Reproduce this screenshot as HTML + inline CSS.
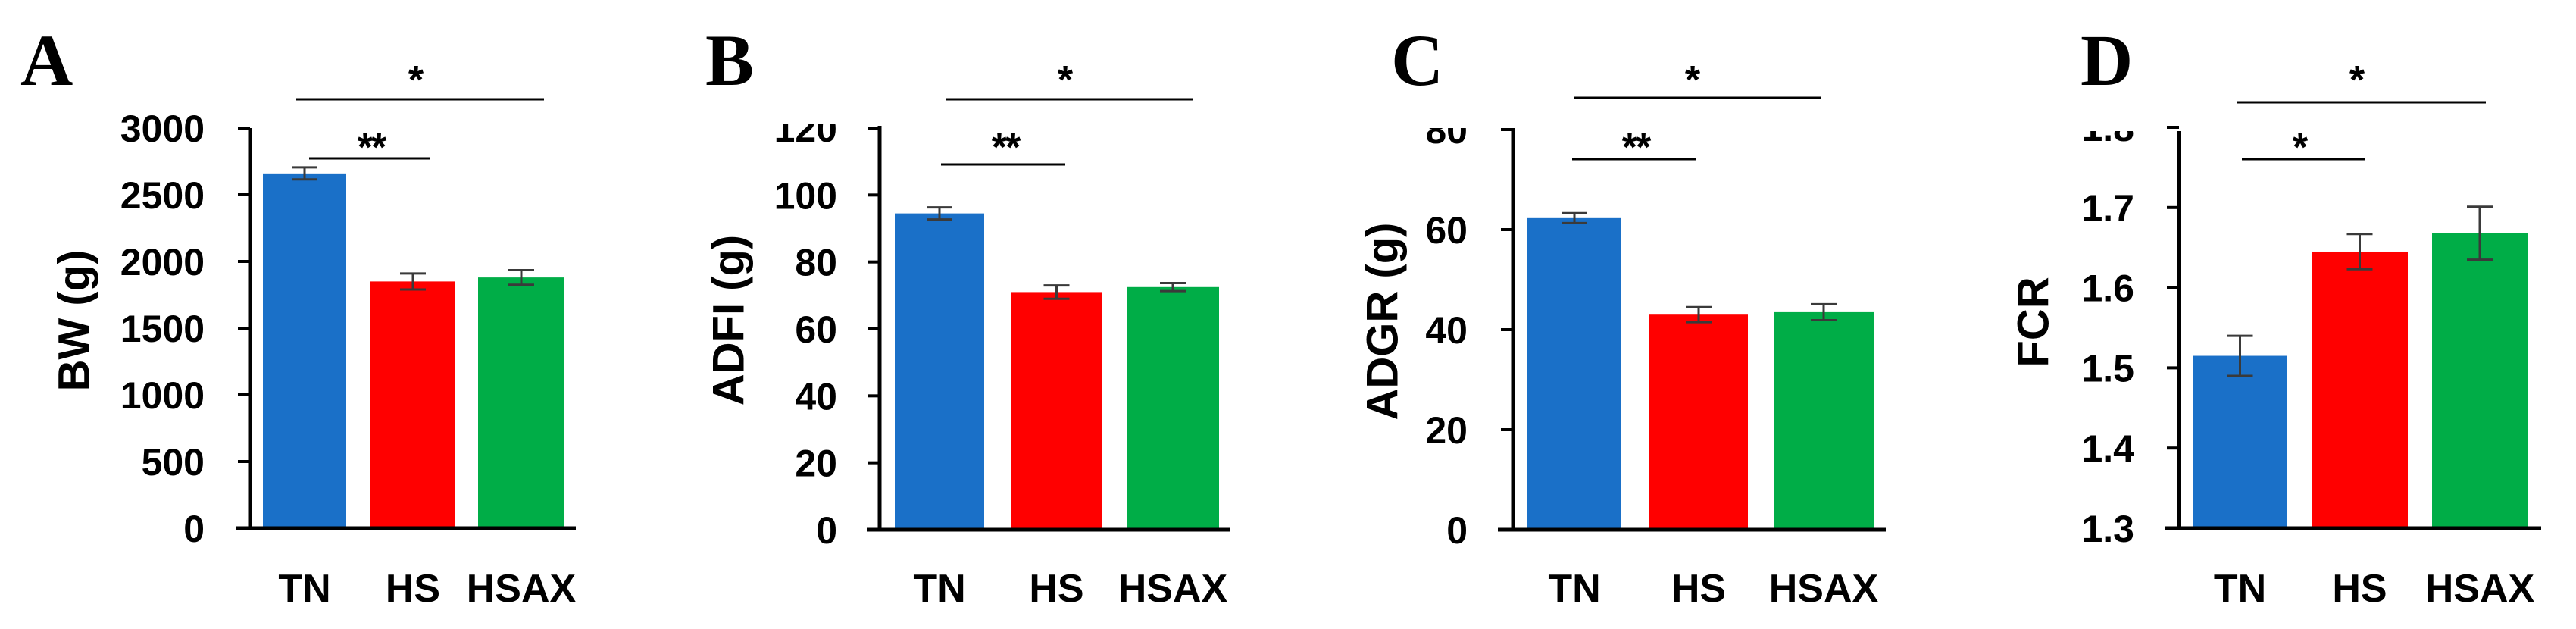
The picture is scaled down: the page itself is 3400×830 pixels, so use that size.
<!DOCTYPE html>
<html><head><meta charset="utf-8"><style>
html,body{margin:0;padding:0;background:#fff;}
svg{display:block;}
text{font-family:"Liberation Sans",sans-serif;font-weight:bold;fill:#000;}
.letter{font-family:"Liberation Serif",serif;font-weight:bold;}
</style></head><body>
<svg id="fig" width="3400" height="830" viewBox="0 0 3400 830" xmlns="http://www.w3.org/2000/svg"></svg>
<script>
const categories = ["TN","HS","HSAX"];
const colors = ["#1a70c8","#ff0000","#00ad47"];
const bwValues = [2660,1850,1880];
const bwErrors = [45,60,55];
const bwTicks = [0,500,1000,1500,2000,2500,3000];
const adfiValues = [94.5,71,72.5];
const adfiErrors = [1.8,2.0,1.2];
const adfiTicks = [0,20,40,60,80,100,120];
const adgrValues = [62.3,43,43.5];
const adgrErrors = [1.0,1.5,1.6];
const adgrTicks = [0,20,40,60,80];
const fcrValues = [1.515,1.645,1.668];
const fcrErrors = [0.025,0.022,0.033];
const fcrTicks = [1.3,1.4,1.5,1.6,1.7,1.8];
const panelLetters = ["A","B","C","D"];
const panelTitles = ["BW (g)","ADFI (g)","ADGR (g)","FCR"];

const NS="http://www.w3.org/2000/svg";
const svg=document.getElementById('fig');
function mk(tag,attrs,parent){const e=document.createElementNS(NS,tag);for(const k in attrs)e.setAttribute(k,attrs[k]);(parent||svg).appendChild(e);return e;}

const layouts=[
 {id:"bw",vals:bwValues,errs:bwErrors,ticks:bwTicks,min:0,max:3000,fmt:v=>String(v),
  axX:330,top:169,bot:697,xl:311,xr:760,bars:[[347,457],[489,601],[631,745]],tickR:270,titleX:98,
  letterX:27,clipTop:150,longL:[391,718,131],longStar:[548,"*"],shortL:[408,568,209],shortStar:[490,"**"]},
 {id:"adfi",vals:adfiValues,errs:adfiErrors,ticks:adfiTicks,min:0,max:120,fmt:v=>String(v),
  axX:1161,top:166,bot:699,xl:1144,xr:1624,bars:[[1181,1299],[1334,1455],[1487,1609]],tickR:1105,titleX:962,
  letterX:931,clipTop:163,longL:[1248,1575,131],longStar:[1405,"*"],shortL:[1242,1406,217],shortStar:[1327,"**"]},
 {id:"adgr",vals:adgrValues,errs:adgrErrors,ticks:adgrTicks,min:0,max:80,fmt:v=>String(v),
  axX:1997,top:169,bot:699,xl:1977,xr:2489,bars:[[2016,2140],[2177,2307],[2341,2473]],tickR:1937,titleX:1825,
  letterX:1836,clipTop:169,longL:[2078,2404,129],longStar:[2233,"*"],shortL:[2075,2238,210],shortStar:[2159,"**"]},
 {id:"fcr",vals:fcrValues,errs:fcrErrors,ticks:fcrTicks,min:1.3,max:1.8,fmt:v=>v.toFixed(1),
  axX:2876,top:173,bot:697,xl:2858,xr:3354,bars:[[2895,3018],[3051,3178],[3210,3336]],tickR:2817,titleX:2684,
  letterX:2746,clipTop:173,longL:[2953,3281,135],longStar:[3110,"*"],shortL:[2959,3122,210],shortStar:[3035,"*"]}
];

const defs=mk('defs',{});
layouts.forEach((L,pi)=>{
  const yTop = L.id==="bw"?169:(L.id==="adfi"?169:(L.id==="adgr"?171:168));
  const y=v=>L.bot-(v-L.min)/(L.max-L.min)*(L.bot-yTop);
  const g=mk('g',{});
  
  
  const cp=mk('clipPath',{id:'clip'+pi},defs);
  mk('rect',{x:L.tickR-200,y:L.clipTop,width:260,height:600},cp);

  const letter=mk('text',{x:L.letterX,y:112,'font-size':96,class:'letter'},g);
  letter.textContent=panelLetters[pi];
  
  

  const cy=(L.top+L.bot)/2-10;
  const title=mk('text',{x:L.titleX,y:cy,'font-size':58,'text-anchor':'middle','dominant-baseline':'central',transform:`rotate(-90 ${L.titleX} ${cy})`},g);
  title.textContent=panelTitles[pi];
  
  

  L.vals.forEach((v,i)=>{
    const [x0,x1]=L.bars[i];
    const r=mk('rect',{x:x0,y:y(v),width:x1-x0,height:L.bot-y(v),fill:colors[i]},g);
    
    
    const cx=(x0+x1)/2, e=L.errs[i];
    const eg=mk('g',{stroke:'#3a3a3a','stroke-width':3},g);
    
    
    mk('line',{x1:cx,x2:cx,y1:y(v+e),y2:y(v-e)},eg);
    mk('line',{x1:cx-17,x2:cx+17,y1:y(v+e),y2:y(v+e)},eg);
    mk('line',{x1:cx-17,x2:cx+17,y1:y(v-e),y2:y(v-e)},eg);
    const t=mk('text',{x:cx,y:794,'font-size':52,'text-anchor':'middle'},g);
    t.textContent=categories[i];
    
    
  });

  const ax=mk('path',{d:`M${L.axX} ${L.top} V${L.bot} M${L.xl} ${L.bot} H${L.xr}`,stroke:'#000','stroke-width':5,fill:'none'},g);
  
  
  const tg=mk('g',{'clip-path':`url(#clip${pi})`},g);
  L.ticks.forEach(tv=>{
    const ty=y(tv);
    const tk=mk('line',{x1:L.axX-16,x2:L.axX,y1:ty,y2:ty,stroke:'#000','stroke-width':4},g);
    
    
    const tl=mk('text',{x:L.tickR,y:ty+18,'font-size':50,'text-anchor':'end'},tg);
    tl.textContent=L.fmt(tv);
    
    
  });

  [[L.longL,L.longStar,101,'sig-tn-hsax'],[L.shortL,L.shortStar,190,'sig-tn-hs']].forEach(([ln,st,sy,nm])=>{
    const sg=mk('g',{},g);
    
    
    mk('line',{x1:ln[0],x2:ln[1],y1:ln[2],y2:ln[2],stroke:'#000','stroke-width':3},sg);
    const s=mk('text',{x:st[0],y:sy+22,'font-size':52,'text-anchor':'middle','letter-spacing':'-2'},sg);
    s.textContent=st[1];
  });
});
</script>
</body></html>
